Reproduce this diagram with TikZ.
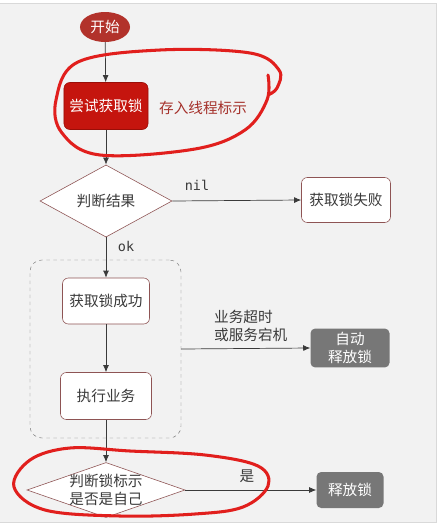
\documentclass[tikz,border=0pt]{standalone}
\usepackage{fontspec}
\setmainfont{Noto Sans CJK SC}
\setmonofont{DejaVu Sans Mono}
\usetikzlibrary{arrows.meta,shapes.geometric}
\definecolor{lockred}{HTML}{C5150E}
\definecolor{lockedge}{HTML}{9A0E08}
\definecolor{startred}{HTML}{B2322B}
\definecolor{tagred}{HTML}{A5312B}
\definecolor{edgered}{HTML}{8E5454}
\definecolor{grayfill}{HTML}{777777}
\definecolor{panel}{HTML}{F2F2F2}
\definecolor{ink}{HTML}{3A3A3A}
\definecolor{pen}{HTML}{E11F1D}
\begin{document}
\begin{tikzpicture}[x=0.03cm, y=-0.03cm, font=\fontsize{12.5}{15}\selectfont, >={Latex[length=6pt,width=5pt]},
  flow/.style={->, draw=ink, line width=0.6pt},
  startnode/.style={ellipse, fill=startred, text=white, minimum width=1.5cm, minimum height=0.9cm, inner sep=0pt},
  lockbox/.style={rectangle, rounded corners=5pt, fill=lockred, draw=lockedge, line width=0.5pt, text=white, minimum width=2.52cm, minimum height=1.41cm},
  plainbox/.style={rectangle, rounded corners=5pt, fill=white, draw=edgered, line width=0.5pt, text=ink, minimum height=1.38cm},
  graybox/.style={rectangle, rounded corners=4pt, fill=grayfill, text=white, align=center, minimum height=1.08cm},
  decision/.style={diamond, fill=white, draw=edgered, line width=0.5pt, text=ink, inner sep=0pt},
  tag/.style={font=\fontsize{11.5}{13}\ttfamily, text=ink},
  handloop/.style={draw=pen, line width=2.6pt, line cap=round, line join=round}]
  \useasboundingbox (0,0) rectangle (441,527);
  % backdrop
  \fill[white] (0,0) rectangle (441,527);
  \fill[panel] (0,3) rectangle (436,522);
  \draw[black!15, line width=0.8pt] (0,3) -- (436,3) -- (436,522) -- (0,522);
  % main column
  \node[startnode] (start) at (105,27) {开始};
  \node[lockbox] (try) at (106,106) {尝试获取锁};
  \node[text=tagred, anchor=west] (store) at (155,108) {存入线程标示};
  \node[decision, minimum width=3.96cm, minimum height=1.68cm] (judge) at (106,201) {判断结果};
  \node[plainbox, minimum width=2.67cm, minimum height=1.35cm] (fail) at (346,200) {获取锁失败};
  \node[draw=black!55, dashed, rounded corners=10pt, minimum width=4.53cm, minimum height=5.34cm] (grp) at (105.5,349) {};
  \node[plainbox, minimum width=2.61cm] (ok) at (106,301) {获取锁成功};
  \node[plainbox, minimum width=2.73cm, minimum height=1.41cm] (exec) at (106,396) {执行业务};
  \node[graybox, minimum width=2.37cm] (auto) at (350,348) {自动\\释放锁};
  \node[decision, minimum width=4.74cm, minimum height=1.65cm,
    label={[align=center, text=ink]center:判断锁标示\\是否是自己}] (check) at (106,490) {};
  \node[graybox, minimum width=2.01cm] (release) at (350,490) {释放锁};
  % connectors
  \draw[flow] (start) -- (try);
  \draw[flow] (try) -- (judge);
  \draw[flow] (judge.east) -- (fail.west);
  \node[tag] (nil) at (197,185) {nil};
  \draw[flow] (judge.south) -- (ok.north);
  \node[tag] (oklbl) at (126,246) {ok};
  \draw[flow] (ok) -- (exec);
  \draw[flow] (grp.east) -- (auto.west);
  \node[anchor=west, align=left, text=ink] (why) at (210,326) {业务超时\\或服务宕机};
  \draw[flow] (exec.south) -- (check.north);
  \draw[flow] (check.east) -- (release.west);
  \node[text=ink] (yes) at (247,476) {是};
  % hand-drawn marks
  \draw[handloop] plot[smooth, tension=0.6] coordinates {(268,75) (267,100) (245,130) (195,149) (100,155) (62,133) (56,100) (78,62) (160,50) (250,53) (279,70) (277,88) (268,95)};
  \draw[handloop] plot[smooth cycle, tension=0.6] coordinates {(14,487) (30,460) (70,448) (130,451) (205,455) (258,466) (268,486) (243,507) (195,514) (120,516) (45,510)};
\end{tikzpicture}
\end{document}
